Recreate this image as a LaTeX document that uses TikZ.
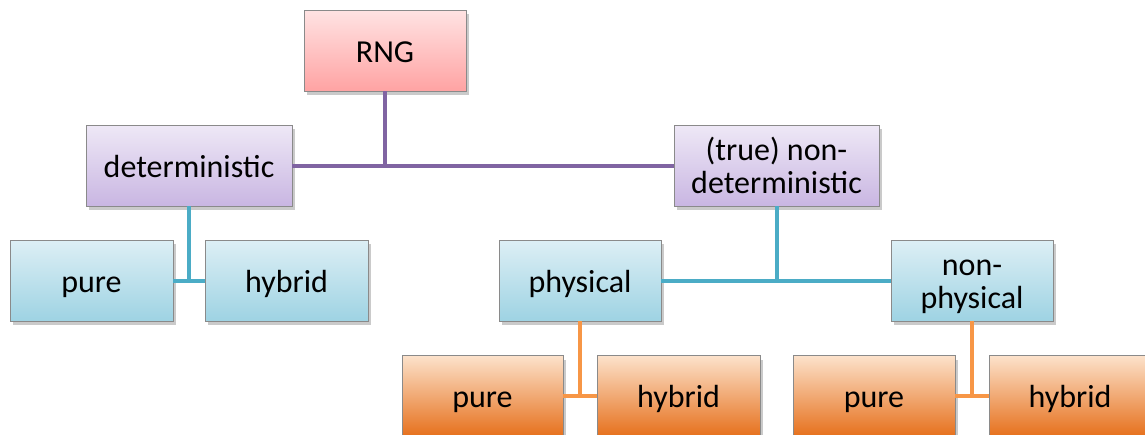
\documentclass[tikz,border=0pt]{standalone}
\usepackage{fontspec}
\setmainfont{Carlito}
\usetikzlibrary{shadows}
\definecolor{linepurple}{HTML}{8064A2}
\definecolor{lineblue}{HTML}{4BACC6}
\definecolor{lineorange}{HTML}{F79646}
\definecolor{boxedge}{HTML}{8A8A8A}
\definecolor{purpletop}{HTML}{EEE8F6}
\definecolor{purplebot}{HTML}{C9B6E2}
\definecolor{bluetop}{HTML}{DDEFF5}
\definecolor{bluebot}{HTML}{9ED3E3}
\definecolor{orangetop}{HTML}{FCE2CB}
\definecolor{orangemid}{HTML}{F8BF8C}
\definecolor{orangebot}{HTML}{E6701C}
\definecolor{redtop}{HTML}{FFE3E3}
\definecolor{redbot}{HTML}{FFA3A3}
% box label: centred lines with uniform struts, a little extra room on top
\newcommand{\boxlbl}[1]{\begin{tabular}{@{}c@{}}\rule{0pt}{33pt}#1\end{tabular}}
\tikzset{
  box/.style={draw=boxedge, line width=0.8pt, minimum width=162pt, minimum height=81pt,
    inner sep=0pt, font=\fontsize{32}{33}\selectfont, text=black,
    drop shadow={shadow xshift=3pt, shadow yshift=-4pt, opacity=0.35, fill=black!60}},
  rngbox/.style={box, top color=redtop, bottom color=redbot},
  purplebox/.style={box, top color=purpletop, bottom color=purplebot},
  bluebox/.style={box, top color=bluetop, bottom color=bluebot},
  orangebox/.style={box, top color=orangetop, middle color=orangemid, bottom color=orangebot},
  link/.style={line width=4pt},
}
\begin{document}
\begin{tikzpicture}[x=1pt, y=-1pt]
\useasboundingbox (0,0) rectangle (1145,434);
\clip (0,0) rectangle (1145,434);
% tree nodes
\node[rngbox, minimum width=162pt] (rng) at (385,50.5) {\boxlbl{RNG}};
\node[purplebox, minimum width=206pt] (det) at (189,165.5) {\boxlbl{deterministic}};
\node[purplebox, minimum width=205pt] (nondet) at (776.5,165.5) {\boxlbl{(true) non-\\deterministic}};
\node[bluebox, minimum width=163pt] (dpure) at (91.5,280.5) {\boxlbl{pure}};
\node[bluebox, minimum width=163pt] (dhyb) at (286.5,280.5) {\boxlbl{hybrid}};
\node[bluebox, minimum width=162pt] (phys) at (580,280.5) {\boxlbl{physical}};
\node[bluebox, minimum width=162pt] (nphys) at (972,280.5) {\boxlbl{non-\\physical}};
\node[orangebox, minimum width=161pt] (ppure) at (482.5,396) {\boxlbl{pure}};
\node[orangebox, minimum width=163pt] (phyb) at (678.5,396) {\boxlbl{hybrid}};
\node[orangebox, minimum width=162pt] (npure) at (874,396) {\boxlbl{pure}};
\node[orangebox, minimum width=162pt] (nhyb) at (1070,396) {\boxlbl{hybrid}};
% junction points
\coordinate (j1) at (rng.south |- det.east);
\coordinate (j2) at (det.south |- dpure.east);
\coordinate (j3) at (nondet.south |- phys.east);
\coordinate (j4) at (phys.south |- ppure.east);
\coordinate (j5) at (nphys.south |- npure.east);
% connectors
\draw[link, linepurple] (det.east) -- (nondet.west);
\draw[link, linepurple] (rng.south) -- (j1);
\draw[link, lineblue] (dpure.east) -- (dhyb.west);
\draw[link, lineblue] (det.south) -- (j2);
\draw[link, lineblue] (phys.east) -- (nphys.west);
\draw[link, lineblue] (nondet.south) -- (j3);
\draw[link, lineorange] (ppure.east) -- (phyb.west);
\draw[link, lineorange] (phys.south) -- (j4);
\draw[link, lineorange] (npure.east) -- (nhyb.west);
\draw[link, lineorange] (nphys.south) -- (j5);
\end{tikzpicture}
\end{document}
